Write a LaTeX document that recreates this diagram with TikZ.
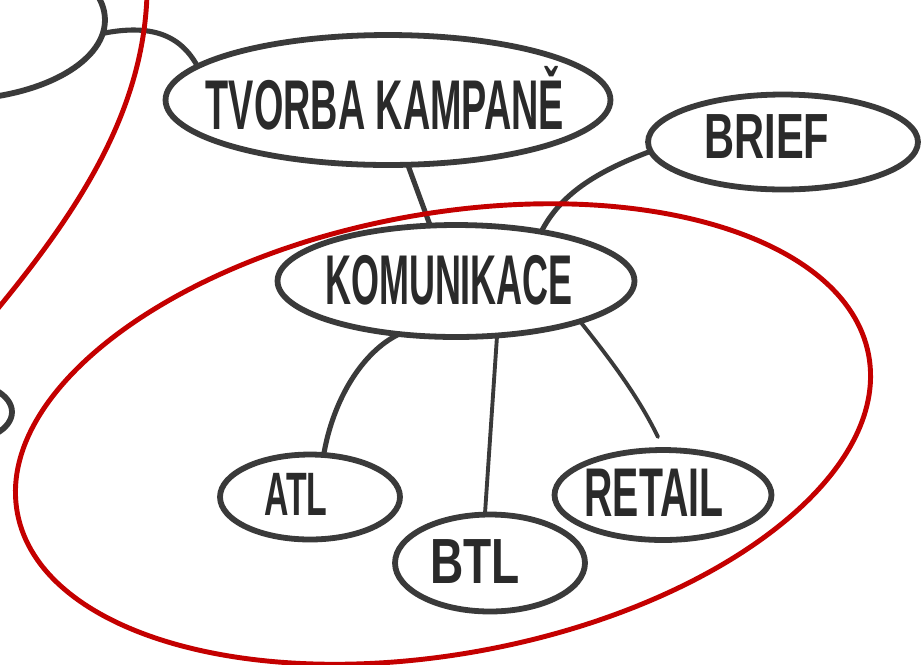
\documentclass[tikz,border=0pt]{standalone}
\usepackage{fontspec}
\setmainfont{Liberation Sans}
\usetikzlibrary{shapes.geometric}
\definecolor{ink}{HTML}{3A3A3A}
\definecolor{txtink}{HTML}{2A2A2A}
\definecolor{redpen}{HTML}{C40000}
\tikzset{
  bub/.style={ellipse, draw=ink, line width=3.3pt, inner sep=0pt, outer sep=0pt},
  link/.style={draw=ink, line width=2.9pt, line cap=round},
  thinlink/.style={draw=ink, line width=2.2pt, line cap=round},
  redring/.style={ellipse, draw=redpen, line width=2.8pt, inner sep=0pt, outer sep=0pt},
  redline/.style={draw=redpen, line width=2.8pt},
  lbl/.style={inner sep=0pt, text=txtink, font=\bfseries}
}
\begin{document}
\begin{tikzpicture}[x=0.02cm, y=-0.02cm]
\useasboundingbox (0,0) rectangle (922,664);
\clip (0,0) rectangle (922,664);
\fill[white] (0,0) rectangle (922,664);

% partial bubbles at left edge
\node[bub, minimum width=6.2cm, minimum height=3.2cm] (leftA) at (-50,20) {};
\node[bub, minimum width=2.08cm, minimum height=1.2cm] (leftB) at (-40,412) {};

% main bubbles
\node[bub, minimum width=8.9cm, minimum height=2.6cm] (tvorba) at (388,100) {};
\node[bub, minimum width=5.4cm, minimum height=1.9cm] (brief) at (783,142) {};
\node[bub, minimum width=7.14cm, minimum height=2.24cm] (kom) at (456,281) {};
\node[bub, minimum width=3.6cm, minimum height=1.7cm] (atl) at (310,497) {};
\node[bub, minimum width=3.8cm, minimum height=1.94cm] (btl) at (490,563) {};
\node[bub, minimum width=4.34cm, minimum height=1.8cm] (retail) at (663,495) {};

% labels
\node[lbl] (tvorbaT) at (385,105) {\resizebox{204pt}{28pt}{TVORBA KAMPAN\smash{Ě}}};
\node[lbl] (briefT) at (767,137) {\resizebox{71pt}{25pt}{BRIEF}};
\node[lbl] (komT) at (449,280) {\resizebox{141pt}{28pt}{KOMUNIKACE}};
\node[lbl] (atlT) at (296,494) {\resizebox{36pt}{24pt}{ATL}};
\node[lbl] (btlT) at (475,562) {\resizebox{51pt}{25pt}{BTL}};
\node[lbl] (retailT) at (654,493) {\resizebox{79pt}{27pt}{RETAIL}};

% connectors
\coordinate (retailEnd) at (658,437);
\draw[link] (leftA.355) .. controls (150,24) and (180,34) .. (tvorba.170);
\draw[link] (tvorba.287) -- (kom.115);
\draw[link] (brief.184) .. controls (595,172) and (560,195) .. (kom.30);
\draw[link] (kom.223) .. controls (362,352) and (333,400) .. (atl.72);
\draw[thinlink] (kom.307) -- (btl.96);
\draw[thinlink] (kom.342) .. controls (615,365) and (640,400) .. (retailEnd);

% red rings
\node[redring, minimum width=17.32cm, minimum height=8.8cm, rotate=10.5] (redB) at (443,434) {};
\draw[redline] (147,-5) .. controls (143,115) and (75,215) .. (-5,312);
\end{tikzpicture}
\end{document}
